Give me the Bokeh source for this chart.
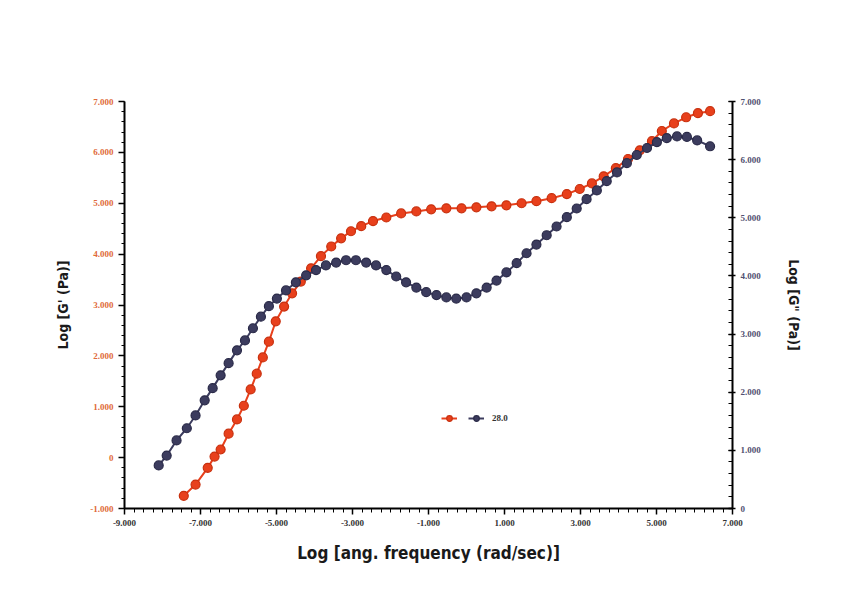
from bokeh.plotting import figure
from bokeh.models import (Range1d, LinearAxis, FixedTicker, Legend, LegendItem)
from bokeh.embed import file_html
from bokeh.resources import INLINE

# ---- data ----
g1_x = [-7.44, -7.13, -6.81, -6.63, -6.47, -6.26, -6.04, -5.86, -5.68, -5.52,
        -5.36, -5.20, -5.02, -4.80, -4.59, -4.36, -4.09, -3.83, -3.56, -3.30,
        -3.04, -2.77, -2.46, -2.11, -1.72, -1.32, -0.93, -0.53, -0.13, 0.26,
        0.66, 1.05, 1.45, 1.84, 2.24, 2.64, 2.98, 3.30, 3.61, 3.93,
        4.25, 4.56, 4.88, 5.14, 5.46, 5.78, 6.09, 6.41]
g1_y = [-0.75, -0.53, -0.20, 0.02, 0.16, 0.47, 0.75, 1.02, 1.34, 1.65,
        1.97, 2.28, 2.68, 2.97, 3.23, 3.46, 3.72, 3.96, 4.15, 4.31,
        4.45, 4.55, 4.65, 4.72, 4.80, 4.84, 4.88, 4.90, 4.90, 4.92,
        4.94, 4.96, 5.00, 5.04, 5.10, 5.18, 5.28, 5.39, 5.53, 5.69,
        5.87, 6.04, 6.22, 6.42, 6.57, 6.69, 6.77, 6.81]

g2_x = [-8.10, -7.89, -7.63, -7.36, -7.13, -6.89, -6.68, -6.47, -6.26, -6.04,
        -5.83, -5.62, -5.41, -5.20, -4.99, -4.75, -4.49, -4.22, -3.96, -3.70,
        -3.43, -3.17, -2.91, -2.64, -2.38, -2.11, -1.85, -1.59, -1.32, -1.06,
        -0.79, -0.53, -0.27, 0.00, 0.26, 0.53, 0.79, 1.05, 1.32, 1.58,
        1.84, 2.11, 2.37, 2.64, 2.90, 3.16, 3.43, 3.69, 3.96, 4.22,
        4.48, 4.75, 5.01, 5.27, 5.54, 5.80, 6.07, 6.41]
g2_y = [0.74, 0.91, 1.17, 1.38, 1.60, 1.86, 2.07, 2.29, 2.50, 2.72,
        2.89, 3.10, 3.30, 3.48, 3.61, 3.75, 3.89, 4.01, 4.10, 4.18,
        4.23, 4.27, 4.27, 4.23, 4.18, 4.10, 3.99, 3.89, 3.80, 3.72,
        3.67, 3.63, 3.61, 3.63, 3.70, 3.80, 3.92, 4.06, 4.22, 4.39,
        4.54, 4.70, 4.85, 5.01, 5.16, 5.32, 5.47, 5.63, 5.78, 5.94,
        6.08, 6.20, 6.30, 6.37, 6.40, 6.39, 6.33, 6.23]

x_ticks = [-9, -7, -5, -3, -1, 1, 3, 5, 7]
x_tick_labels = ["-9.000", "-7.000", "-5.000", "-3.000", "-1.000", "1.000", "3.000", "5.000", "7.000"]
yl_ticks = [-1, 0, 1, 2, 3, 4, 5, 6, 7]
yl_tick_labels = ["-1.000", "0", "1.000", "2.000", "3.000", "4.000", "5.000", "6.000", "7.000"]
yr_ticks = [0, 1, 2, 3, 4, 5, 6, 7]
yr_tick_labels = ["0", "1.000", "2.000", "3.000", "4.000", "5.000", "6.000", "7.000"]
series_label = "28.0"

RED = "#e8401c"
RED_EDGE = "#c8300e"
BLUE = "#3c3c5e"
BLUE_EDGE = "#2a2a48"
TICK_FONT = "Liberation Serif"
LABEL_FONT = "DejaVu Sans Condensed"

p = figure(width=825, height=597, output_backend="svg", toolbar_location=None,
           x_range=Range1d(-9, 7), y_range=Range1d(-1, 7),
           min_border_left=124, min_border_right=93, min_border_top=101,
           min_border_bottom=89, x_axis_location=None, y_axis_location=None)
p.extra_y_ranges = {"right": Range1d(0, 7)}
p.outline_line_color = None
p.xgrid.visible = False
p.ygrid.visible = False
p.background_fill_color = "white"
p.border_fill_color = "white"

def minor(lo, hi, step):
    n = int(round((hi - lo) / step))
    return [lo + i * step for i in range(n + 1)]

# bottom axis
xa = LinearAxis(axis_label="Log [ang. frequency (rad/sec)]")
xa.ticker = FixedTicker(ticks=x_ticks, minor_ticks=minor(-9, 7, 0.25))
xa.major_label_overrides = {t: l for t, l in zip(x_ticks, x_tick_labels)}
p.add_layout(xa, "below")

# left axis
ya = LinearAxis(axis_label="Log [G' (Pa)]")
ya.ticker = FixedTicker(ticks=yl_ticks, minor_ticks=minor(-1, 7, 0.2))
ya.major_label_overrides = {t: l for t, l in zip(yl_ticks, yl_tick_labels)}
p.add_layout(ya, "left")

# right axis
yb = LinearAxis(axis_label='Log [G" (Pa)]', y_range_name="right")
yb.ticker = FixedTicker(ticks=yr_ticks, minor_ticks=minor(0, 7, 0.2))
yb.major_label_overrides = {t: l for t, l in zip(yr_ticks, yr_tick_labels)}
p.add_layout(yb, "right")

for ax in (xa, ya, yb):
    ax.axis_line_color = "black"
    ax.axis_line_width = 2
    ax.major_tick_line_color = "black"
    ax.minor_tick_line_color = "black"
    ax.major_tick_line_width = 1.5
    ax.major_label_text_font = TICK_FONT
    ax.major_label_text_font_style = "bold"
    ax.major_label_text_font_size = "9px"
    ax.axis_label_text_font = LABEL_FONT
    ax.axis_label_text_font_style = "bold"
    ax.axis_label_text_color = "#1a1a1a"

xa.major_tick_out = 6
xa.major_tick_in = 0
xa.minor_tick_out = 4
xa.minor_tick_in = 0
xa.major_label_text_color = "#333333"
xa.axis_label_text_font_size = "17px"
xa.axis_label_standoff = 14

ya.major_tick_out = 6
ya.major_tick_in = 0
ya.minor_tick_out = 3
ya.minor_tick_in = 0
ya.major_label_text_color = "#e06a3a"
ya.axis_label_text_font_size = "14px"
ya.axis_label_standoff = 16

yb.major_tick_out = 3
yb.major_tick_in = 4
yb.minor_tick_out = 0
yb.minor_tick_in = 4
yb.major_label_text_color = "#505070"
yb.axis_label_text_font_size = "14px"
yb.axis_label_standoff = 22

# G' series (left axis)
r1l = p.line(g1_x, g1_y, line_color=RED, line_width=2)
r1c = p.scatter(g1_x, g1_y, size=9, fill_color=RED, line_color=RED_EDGE, line_width=1.2)
# G'' series (right axis)
r2l = p.line(g2_x, g2_y, line_color=BLUE, line_width=2, y_range_name="right")
r2c = p.scatter(g2_x, g2_y, size=9, fill_color=BLUE, line_color=BLUE_EDGE,
                line_width=1.2, y_range_name="right")

legend = Legend(items=[LegendItem(label="", renderers=[r1l, r1c]),
                       LegendItem(label=series_label, renderers=[r2l, r2c])],
                orientation="horizontal", location=(317, 83),
                border_line_color=None, background_fill_alpha=0,
                glyph_width=16, glyph_height=14, label_standoff=8, spacing=3,
                label_width=0, padding=0, margin=0,
                label_text_font=TICK_FONT, label_text_font_style="bold",
                label_text_font_size="9px", label_text_color="#333333")
p.add_layout(legend, "center")

open("out.html", "w").write(file_html(p, INLINE))
